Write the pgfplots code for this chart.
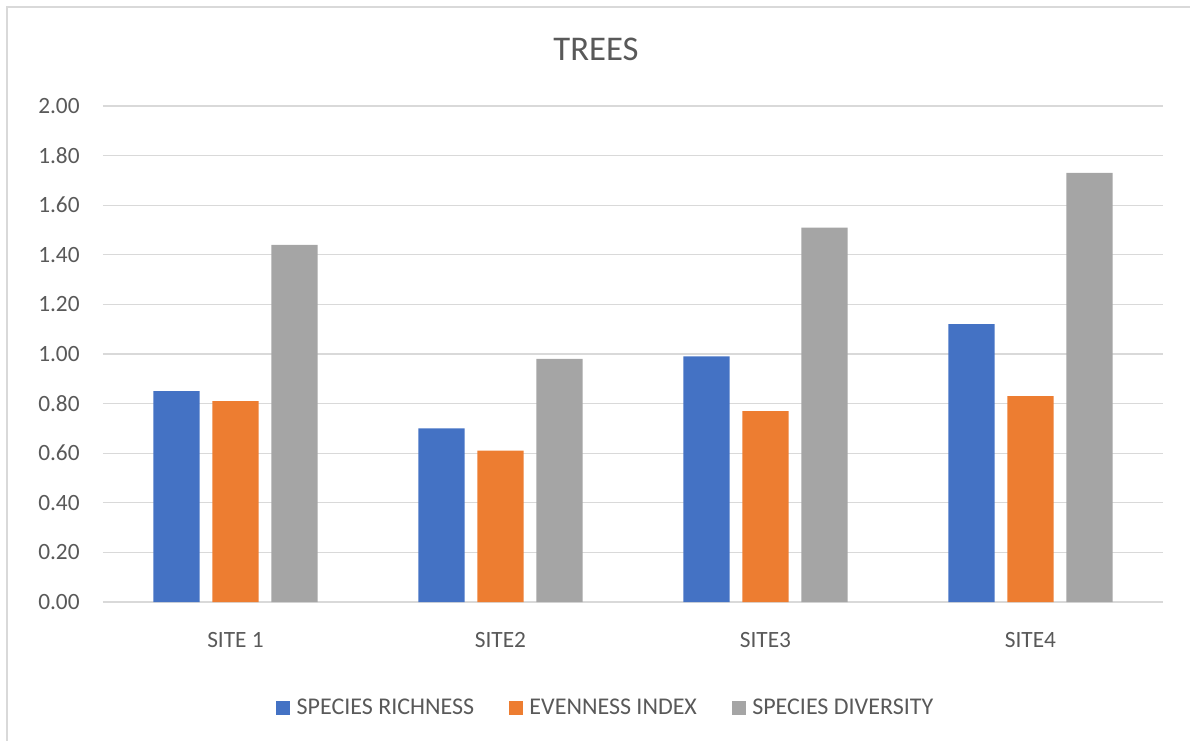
\documentclass[border=0pt]{standalone}
\usepackage{fontspec}
\setmainfont{Carlito}
\usepackage{pgfplots}
\pgfplotsset{compat=1.18}
\definecolor{cblue}{HTML}{4472C4}
\definecolor{corange}{HTML}{ED7D31}
\definecolor{cgray}{HTML}{A5A5A5}
\definecolor{gridc}{HTML}{D9D9D9}
\definecolor{txt}{HTML}{595959}
\begin{document}
\begin{tikzpicture}[x=0.75pt,y=0.75pt]
\useasboundingbox (-103,-138) rectangle (1087,602);
\draw[gridc, line width=1.6pt] (-95.7,-140) -- (-95.7,594.7) -- (1090,594.7);
\begin{axis}[
  at={(0,0)}, anchor=south west,
  scale only axis, width=795pt, height=372pt,
  ybar, bar width=0.174,
  xmin=-0.5, xmax=3.5, ymin=0, ymax=2,
  xtick={0,1,2,3}, xticklabels={SITE 1,SITE2,SITE3,SITE4},
  ytick={0,0.2,...,2.01},
  /pgf/number format/fixed, /pgf/number format/fixed zerofill,
  /pgf/number format/precision=2, /pgf/number format/assume math mode=true,
  yticklabel style={xshift=-14pt},
  xticklabel style={yshift=-15pt},
  ymajorgrids, major grid style={gridc, line width=1pt},
  axis line style={draw=none}, tick style={draw=none},
  tick label style={font=\fontsize{17.5}{20}\selectfont, text=txt},
  legend columns=3,
  legend style={at={(0.4745,-0.2137)}, anchor=center, draw=none, fill=none,
    font=\fontsize{18}{21}\selectfont, text=txt,
    /tikz/every odd column/.append style={column sep=3pt},
    /tikz/every even column/.append style={column sep=24pt}},
  legend image code/.code={\fill[#1,draw=none] (0pt,-5.25pt) rectangle (10.5pt,5.25pt);},
]
\addplot[fill=cblue, draw=none, bar shift=-0.2226] coordinates {(0,0.85) (1,0.70) (2,0.99) (3,1.12)};
\addplot[fill=corange, draw=none, bar shift=0] coordinates {(0,0.81) (1,0.61) (2,0.77) (3,0.83)};
\addplot[fill=cgray, draw=none, bar shift=0.2226] coordinates {(0,1.44) (1,0.98) (2,1.51) (3,1.73)};
\legend{SPECIES RICHNESS, EVENNESS INDEX, SPECIES DIVERSITY}
\end{axis}
\node[text=txt, font=\fontsize{26}{31}\selectfont] at (493,553) {TREES};
\end{tikzpicture}
\end{document}
